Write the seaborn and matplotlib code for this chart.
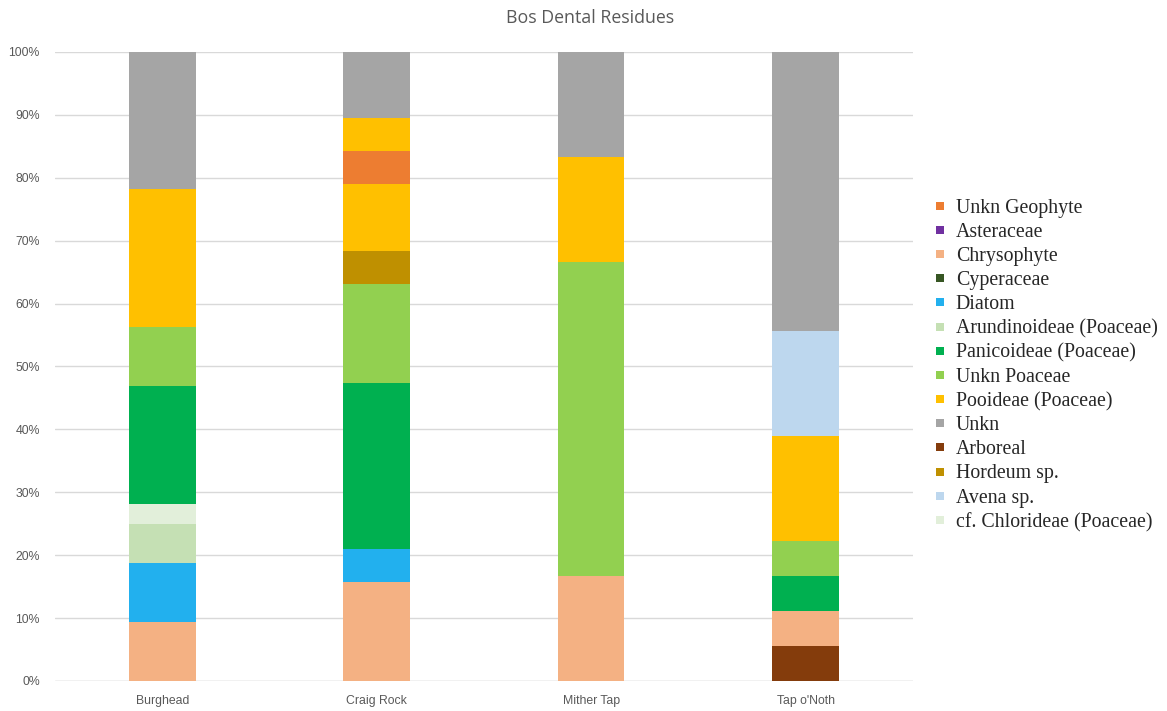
import matplotlib
matplotlib.use("Agg")
import matplotlib.pyplot as plt
from matplotlib.lines import Line2D
import seaborn as sns
import numpy as np

sns.set_theme(style="white")
plt.rcParams["font.family"] = ["Liberation Sans", "DejaVu Sans"]

# Sites and percentage composition of each residue type (bottom-to-top stacking order)
sites = ["Burghead", "Craig Rock", "Mither Tap", "Tap o'Noth"]

arboreal = [0, 0, 0, 5.56]
chrysophyte = [9.38, 15.79, 16.67, 5.56]
diatom = [9.38, 5.26, 0, 0]
arundinoideae = [6.25, 0, 0, 0]
chlorideae = [3.12, 0, 0, 0]
panicoideae = [18.75, 26.32, 0, 5.56]
unkn_poaceae = [9.38, 15.79, 50.0, 5.56]
hordeum = [0, 5.26, 0, 0]
pooideae = [21.88, 10.53, 16.67, 16.67]
geophyte = [0, 5.26, 0, 0]
pooideae_upper = [0, 5.26, 0, 0]
avena = [0, 0, 0, 16.67]
unkn = [21.88, 10.53, 16.67, 44.44]
asteraceae = [0, 0, 0, 0]
cyperaceae = [0, 0, 0, 0]

colors = {
    "Unkn Geophyte": "#ED7D31",
    "Asteraceae": "#7030A0",
    "Chrysophyte": "#F4B183",
    "Cyperaceae": "#375623",
    "Diatom": "#22B0EE",
    "Arundinoideae (Poaceae)": "#C5E0B4",
    "Panicoideae (Poaceae)": "#00B050",
    "Unkn Poaceae": "#92D050",
    "Pooideae (Poaceae)": "#FFC000",
    "Unkn": "#A5A5A5",
    "Arboreal": "#843C0C",
    "Hordeum sp.": "#BF9000",
    "Avena sp.": "#BDD7EE",
    "cf. Chlorideae (Poaceae)": "#E2EFDA",
}

stack = [
    ("Arboreal", arboreal),
    ("Chrysophyte", chrysophyte),
    ("Diatom", diatom),
    ("Arundinoideae (Poaceae)", arundinoideae),
    ("cf. Chlorideae (Poaceae)", chlorideae),
    ("Panicoideae (Poaceae)", panicoideae),
    ("Unkn Poaceae", unkn_poaceae),
    ("Hordeum sp.", hordeum),
    ("Pooideae (Poaceae)", pooideae),
    ("Unkn Geophyte", geophyte),
    ("Pooideae (Poaceae)", pooideae_upper),
    ("Avena sp.", avena),
    ("Unkn", unkn),
    ("Asteraceae", asteraceae),
    ("Cyperaceae", cyperaceae),
]

legend_order = [
    "Unkn Geophyte", "Asteraceae", "Chrysophyte", "Cyperaceae", "Diatom",
    "Arundinoideae (Poaceae)", "Panicoideae (Poaceae)", "Unkn Poaceae",
    "Pooideae (Poaceae)", "Unkn", "Arboreal", "Hordeum sp.", "Avena sp.",
    "cf. Chlorideae (Poaceae)",
]

fig = plt.figure(figsize=(11.67, 7.11), dpi=100)
ax = fig.add_axes([0.0472, 0.0422, 0.735, 0.8847])

bottom = np.zeros(len(sites))
for name, vals in stack:
    vals = np.asarray(vals, dtype=float)
    sns.barplot(x=sites, y=vals, bottom=bottom, color=colors[name],
                saturation=1, width=0.31, errorbar=None, linewidth=0, ax=ax,
                zorder=3)
    bottom = bottom + vals

ax.set_ylim(0, 100)
ax.set_xlim(-0.5, 3.5)
ax.set_yticks(np.arange(0, 101, 10))
ax.set_yticklabels([f"{v}%" for v in range(0, 101, 10)])
ax.grid(axis="y", color="#D9D9D9", linewidth=1, zorder=0)
ax.grid(axis="x", visible=False)
for s in ax.spines.values():
    s.set_visible(False)
ax.axhline(0, color="#D9D9D9", linewidth=1, zorder=1)
ax.tick_params(axis="both", length=0, labelsize=8.8, colors="#595959")
ax.tick_params(axis="y", pad=11)
ax.tick_params(axis="x", pad=10)
ax.set_xlabel("")
ax.set_ylabel("")

fig.text(0.506, 0.974, "Bos Dental Residues", ha="center", va="center",
         fontsize=12.8, color="#595959", family=["Open Sans", "DejaVu Sans"])

handles = [Line2D([], [], marker="s", linestyle="none", markersize=6,
                  markerfacecolor=colors[n], markeredgewidth=0)
           for n in legend_order]
fig.legend(handles, legend_order, loc="upper left",
           bbox_to_anchor=(933 / 1167, 1 - 199 / 711), frameon=False,
           prop={"family": "Liberation Serif", "size": 14.3},
           labelspacing=0.255, handlelength=0.7, handletextpad=0.45,
           borderaxespad=0, borderpad=0)

fig.savefig("out.png", dpi=100, facecolor="white")
